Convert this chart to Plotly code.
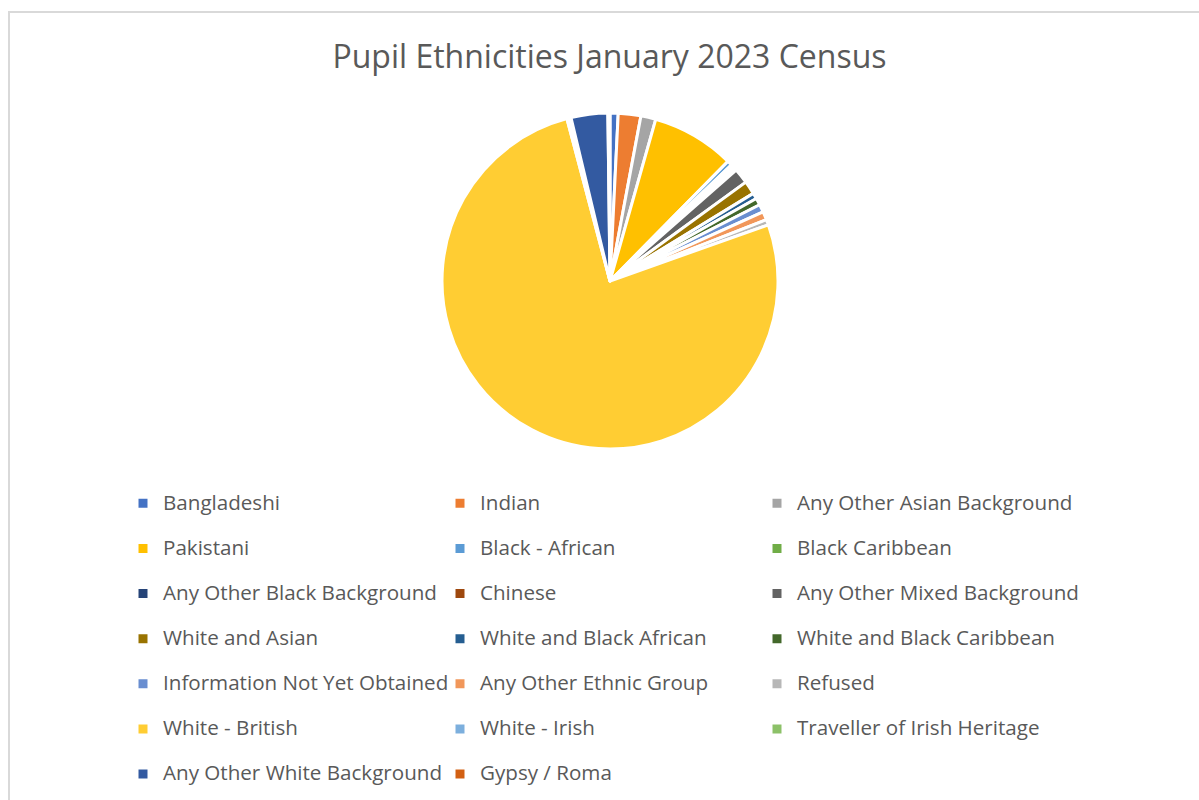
import plotly.graph_objects as go

# ---- data (percent of pupils) ----
categories = [
    "Bangladeshi", "Indian", "Any Other Asian Background",
    "Pakistani", "Black - African", "Black Caribbean",
    "Any Other Black Background", "Chinese", "Any Other Mixed Background",
    "White and Asian", "White and Black African", "White and Black Caribbean",
    "Information Not Yet Obtained", "Any Other Ethnic Group", "Refused",
    "White - British", "White - Irish", "Traveller of Irish Heritage",
    "Any Other White Background", "Gypsy / Roma",
]
values = [
    0.78, 2.17, 1.44,
    8.00, 0.47, 0.22,
    0.22, 0.22, 1.47,
    1.28, 0.56, 0.67,
    0.75, 0.80, 0.53,
    76.30, 0.20, 0.20,
    3.53, 0.20,
]
colors = [
    "#4472C4", "#ED7D31", "#A5A5A5",
    "#FFC000", "#5B9BD5", "#70AD47",
    "#264478", "#9E480E", "#636363",
    "#997300", "#255E91", "#43682B",
    "#698ED0", "#F1975A", "#B7B7B7",
    "#FFCD33", "#7CAFDD", "#8CC168",
    "#335AA1", "#D26012",
]
title_text = "Pupil Ethnicities January 2023 Census"

W, H = 1199, 800
legend_labels = [
    f"<span style='font-size:20.6px'>{c}</span><br> " for c in categories
]
# invisible wide legend title so the last legend column is not clipped
legend_spacer = "<span style='font-size:20px'>" + "\u00a0" * 210 + "</span>"

fig = go.Figure(
    go.Pie(
        labels=legend_labels,
        values=values,
        sort=False,
        direction="clockwise",
        rotation=0,
        textinfo="none",
        hoverinfo="skip",
        marker=dict(colors=colors, line=dict(color="white", width=3)),
        domain=dict(x=[442 / W, 778 / W], y=[1 - 449 / H, 1 - 113 / H]),
    )
)

fig.update_layout(
    width=W,
    height=H,
    margin=dict(l=0, r=0, t=0, b=0, autoexpand=False),
    paper_bgcolor="white",
    plot_bgcolor="white",
    title=dict(
        text=title_text,
        x=609.5 / W,
        xanchor="center",
        y=1 - 57 / H,
        yanchor="middle",
        font=dict(family="Open Sans", size=32, color="#595959"),
    ),
    legend=dict(
        orientation="h",
        x=123 / W,
        xanchor="left",
        y=1 - 485 / H,
        yanchor="top",
        entrywidth=272,
        entrywidthmode="pixels",
        valign="top",
        font=dict(family="Open Sans", size=16.2, color="#595959"),
        title=dict(text=legend_spacer, side="top",
                   font=dict(size=1, color="rgba(0,0,0,0)")),
        bgcolor="rgba(0,0,0,0)",
    ),
    shapes=[
        dict(
            type="rect",
            xref="paper", yref="paper",
            x0=9 / W, x1=1 + 10 / W,
            y0=-10 / H, y1=1 - 12 / H,
            line=dict(color="#D9D9D9", width=2),
            fillcolor="rgba(0,0,0,0)",
            layer="below",
        )
    ],
)

fig.write_html("out.html")
